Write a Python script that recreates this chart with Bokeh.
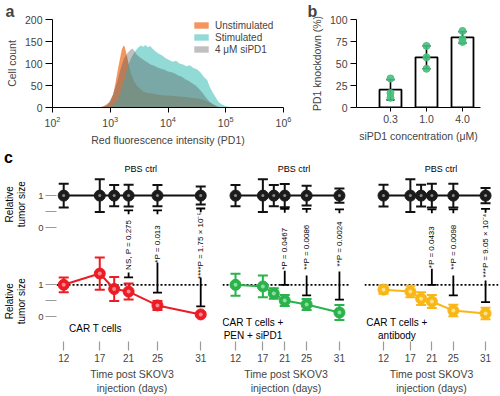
import numpy as np
from bokeh.plotting import figure
from bokeh.layouts import row, column
from bokeh.models import (Range1d, FixedTicker, Legend, LegendItem, Span)
from bokeh.core.properties import value
from bokeh.embed import file_html
from bokeh.resources import INLINE

FONT = "Liberation Sans"

# ---------------- panel a : PD1 histograms (log10 intensity, cell count) ----------------
unstim_log = [2.80, 2.88, 2.95, 3.00, 3.05, 3.09, 3.13, 3.17, 3.20, 3.23, 3.25, 3.27, 3.30,
              3.33, 3.37, 3.41, 3.46, 3.52, 3.58, 3.65, 3.72, 3.80, 3.90, 4.00, 4.10, 4.20,
              4.30, 4.40, 4.50, 4.60, 4.70, 4.78, 4.85, 4.92]
unstim_cnt = [0, 2, 6, 14, 30, 55, 85, 112, 132, 141, 138, 128, 110,
              92, 74, 60, 50, 42, 36, 33, 32, 30, 28, 27, 26, 25,
              24, 22, 21, 18, 13, 8, 3, 0]

stim_log = [2.95, 3.05, 3.12, 3.18, 3.24, 3.30, 3.36, 3.42, 3.48, 3.53, 3.57, 3.61, 3.65,
            3.69, 3.73, 3.78, 3.84, 3.90, 3.96, 4.02, 4.08, 4.14, 4.20, 4.26, 4.32, 4.38,
            4.44, 4.50, 4.56, 4.62, 4.68, 4.73, 4.78, 4.83, 4.88, 4.94, 5.00, 5.08, 5.16]
stim_cnt = [0, 5, 15, 35, 62, 92, 112, 126, 136, 141, 138, 142, 137,
            140, 134, 128, 122, 118, 112, 108, 104, 106, 100, 98, 94, 96,
            90, 87, 80, 70, 62, 45, 33, 22, 12, 6, 3, 1, 0]

sipd1_log = [2.82, 2.90, 2.98, 3.05, 3.12, 3.18, 3.24, 3.30, 3.35, 3.39, 3.42, 3.46, 3.52,
             3.58, 3.64, 3.70, 3.76, 3.82, 3.88, 3.94, 4.00, 4.06, 4.12, 4.18, 4.24, 4.30,
             4.36, 4.42, 4.48, 4.54, 4.60, 4.66, 4.72, 4.78, 4.84, 4.90]
sipd1_cnt = [0, 4, 12, 30, 58, 88, 112, 124, 131, 134, 128, 120, 113,
             108, 103, 98, 95, 91, 88, 86, 82, 80, 77, 73, 70, 64,
             60, 55, 50, 42, 33, 22, 13, 7, 3, 0]

hist_labels = ["Unstimulated", "Stimulated", "4 μM siPD1"]
x_decades = [1e2, 1e3, 1e4, 1e5, 1e6]
y_counts = [0, 50, 100, 150, 200]

# ---------------- panel b : knockdown ----------------
conc_labels = ["0.3", "1.0", "4.0"]
kd_mean = [20.2, 57.0, 79.7]
kd_err = [11.5, 13.0, 6.5]
kd_points = [[33.0, 16.5, 11.0], [70.0, 57.0, 44.0], [87.0, 77.5, 74.5]]
kd_ticks = [0, 25, 50, 75, 100]

# ---------------- panel c : relative tumour size ----------------
days = [12, 17, 19, 21, 25, 31]
tick_days = [12, 17, 21, 25, 31]
OFF = 2.77  # vertical offset of the PBS ctrl block

pbs_mean = [1, 1, 1, 1, 1, 1]
pbs_err_c1 = [0.37, 0.51, 0.33, 0.34, 0.33, 0.28]
pbs_err_c2 = [0.33, 0.51, 0.33, 0.36, 0.31, 0.22]
pbs_err_c3 = [0.34, 0.51, 0.34, 0.37, 0.37, 0.24]

car_mean = [1.0, 1.35, 0.87, 0.79, 0.36, 0.08]
car_err = [0.23, 0.50, 0.37, 0.25, 0.14, 0.05]
pen_mean = [1.0, 0.95, 0.73, 0.51, 0.39, 0.14]
pen_err = [0.34, 0.34, 0.16, 0.17, 0.17, 0.23]
ab_mean = [0.85, 0.79, 0.57, 0.48, 0.20, 0.11]
ab_err = [0.13, 0.18, 0.20, 0.20, 0.18, 0.18]

sig_days = [21, 25, 31]
sig_c1_text = ["NS, P = 0.275", "*P = 0.013", "****P = 1.75 × 10⁻⁵"]
sig_c2_text = ["*P = 0.0467", "**P = 0.0086", "**P = 0.0024"]
sig_c3_text = ["*P = 0.0433", "**P = 0.0098", "***P = 9.05 × 10⁻⁴"]
sig_c1_top = [3.31, 3.31, 3.37]
sig_c1_mid = [2.24, 2.27, 2.22]
sig_c1_segtop = [1.38, 1.69, 1.23]
sig_c1_bot = [1.23, 0.76, 0.33]
sig_c2_top = [3.36, 3.36, 3.34]
sig_c2_mid = [2.12, 2.17, 2.27]
sig_c2_segtop = [1.44, 1.29, 1.41]
sig_c2_bot = [1.00, 0.67, 0.54]
sig_c3_top = [3.34, 3.34, 3.36]
sig_c3_mid = [2.17, 2.17, 2.22]
sig_c3_segtop = [1.50, 1.29, 1.13]
sig_c3_bot = [1.00, 0.67, 0.46]

TEAL = "#5ec8c2"
GRAY = "#505050"
ORANGE = "#f07a34"
GREEN_PT = "#45c27e"
RED = "#ed1c24"
GREEN = "#2ab34b"
YELLOW = "#f9b716"

YR_C = (-0.761, 5.233)


def style(p, label_size="10.5px"):
    for ax in p.axis:
        ax.major_label_text_font = FONT
        ax.major_label_text_font_size = label_size
        ax.axis_label_text_font = FONT
        ax.axis_label_text_font_size = "10.5px"
        ax.axis_label_text_font_style = "normal"
        ax.minor_tick_line_color = None
        ax.major_tick_in = 0
        ax.axis_label_standoff = 4
        ax.major_label_standoff = 3
    p.grid.visible = False
    p.outline_line_color = None
    p.background_fill_color = "white"


def letter_title(p, t, off):
    p.title.text = t
    p.title.align = "left"
    p.title.offset = off
    p.title.standoff = 0
    p.title.text_font = FONT
    p.title.text_font_size = "16px"
    p.title.text_font_style = "bold"


# ================= panel a =================
pa = figure(width=300, height=148, x_axis_type="log", x_range=Range1d(1e2, 1e6),
            y_range=Range1d(0, 200), output_backend="svg", toolbar_location=None,
            min_border_left=52, min_border_right=17, min_border_top=19, min_border_bottom=40)
r_un = pa.varea(x=[10 ** v for v in unstim_log], y1=0, y2=unstim_cnt,
                fill_color=ORANGE, fill_alpha=0.8)
r_st = pa.varea(x=[10 ** v for v in stim_log], y1=0, y2=stim_cnt,
                fill_color=TEAL, fill_alpha=0.68)
r_si = pa.varea(x=[10 ** v for v in sipd1_log], y1=0, y2=sipd1_cnt,
                fill_color=GRAY, fill_alpha=0.36)
pa.xaxis.ticker = FixedTicker(ticks=x_decades)
pa.yaxis.ticker = FixedTicker(ticks=y_counts)
pa.xaxis.axis_label = "Red fluorescence intensity (PD1)"
pa.yaxis.axis_label = "Cell count"
style(pa)
pa.xaxis.major_tick_out = 5
pa.yaxis.major_tick_out = 7
leg = Legend(items=[LegendItem(label=hist_labels[0], renderers=[r_un]),
                    LegendItem(label=hist_labels[1], renderers=[r_st]),
                    LegendItem(label=hist_labels[2], renderers=[r_si])],
             location=(140, 52), glyph_width=18, glyph_height=8, label_height=12,
             spacing=0, padding=0, margin=0, label_standoff=5,
             border_line_color=None, background_fill_alpha=0,
             label_text_font=FONT, label_text_font_size="10px")
pa.add_layout(leg)
letter_title(pa, "a", -47)

# ================= panel b =================
conc_pos = list(range(len(conc_labels)))
pb = figure(width=200, height=148, x_range=Range1d(-0.944, 2.5), y_range=Range1d(0, 100),
            output_backend="svg", toolbar_location=None,
            min_border_left=56, min_border_right=20, min_border_top=19, min_border_bottom=40)
pb.vbar(x=conc_pos, top=kd_mean, width=0.61, fill_color="white", line_color="black",
        line_width=1.8)
lo = [m - e for m, e in zip(kd_mean, kd_err)]
hi = [m + e for m, e in zip(kd_mean, kd_err)]
pb.segment(x0=conc_pos, y0=lo, x1=conc_pos, y1=hi, line_color="black", line_width=1.6)
pb.scatter(conc_pos + conc_pos, lo + hi, marker="dash", size=8, line_color="black",
           line_width=1.6)
px = [conc_pos[i] for i, pts in enumerate(kd_points) for _ in pts]
py = [v for pts in kd_points for v in pts]
pb.scatter(px, py, size=7, fill_color=GREEN_PT, line_color=GREEN_PT, fill_alpha=0.9)
pb.xaxis.ticker = FixedTicker(ticks=conc_pos)
pb.xaxis.major_label_overrides = {i: s for i, s in zip(conc_pos, conc_labels)}
pb.yaxis.ticker = FixedTicker(ticks=kd_ticks)
pb.xaxis.axis_label = "siPD1 concentration (μM)"
pb.yaxis.axis_label = "PD1 knockdown (%)"
style(pb)
pb.xaxis.major_tick_out = 4
pb.yaxis.major_tick_out = 6
letter_title(pb, "b", -49)

# ================= panel c =================
# left strip holding the y-axis titles and the panel letter
lab = figure(width=30, height=248, x_range=Range1d(0, 1), y_range=Range1d(*YR_C),
             output_backend="svg", toolbar_location=None, x_axis_location=None,
             y_axis_location=None, title=None, min_border_left=0, min_border_right=0,
             min_border_top=0, min_border_bottom=55)
lab.grid.visible = False
lab.outline_line_color = None
lab.text(x=[0.5, 0.5], y=[OFF + 0.73, 0.49], text=["Relative\ntumor size"] * 2,
         angle=np.pi / 2, text_align="center", text_baseline="middle",
         text_font=value(FONT), text_font_size="10px", text_line_height=1.05)
lab.text(x=[0.12], y=[YR_C[1]], text=["c"], text_align="left", text_baseline="top",
         text_font=value(FONT), text_font_size="16px", text_font_style="bold")


def panel_c(width, bl, br, xr, pbs_err, tr_mean, tr_err, color, light,
            s_text, s_top, s_mid, s_segtop, s_bot, caption, cap_x, show_y):
    p = figure(width=width, height=248, x_range=Range1d(*xr), y_range=Range1d(*YR_C),
               output_backend="svg", toolbar_location=None, title=None,
               min_border_left=bl, min_border_right=br, min_border_top=0,
               min_border_bottom=55)
    p.add_layout(Span(location=1, dimension="width", line_color="black", line_width=1.8,
                      line_dash="2 2", level="underlay"))
    pby = [v + OFF for v in pbs_mean]
    # PBS control
    p.line(days, pby, line_color="#111111", line_width=2)
    plo = [m - e for m, e in zip(pby, pbs_err)]
    phi = [m + e for m, e in zip(pby, pbs_err)]
    p.segment(x0=days, y0=plo, x1=days, y1=phi, line_color="#111111", line_width=2)
    p.scatter(days + days, plo + phi, marker="dash", size=10, line_color="#111111",
              line_width=2)
    p.scatter(days, pby, size=11, fill_color="#1b1b1b", line_color="#1b1b1b")
    p.scatter(days, pby, size=3, fill_color="#8a8a8a", line_color=None)
    # treatment
    p.line(days, tr_mean, line_color=color, line_width=2)
    tlo = [m - e for m, e in zip(tr_mean, tr_err)]
    thi = [m + e for m, e in zip(tr_mean, tr_err)]
    p.segment(x0=days, y0=tlo, x1=days, y1=thi, line_color=color, line_width=2)
    p.scatter(days + days, tlo + thi, marker="dash", size=10, line_color=color,
              line_width=2)
    p.scatter(days, tr_mean, size=11, fill_color=color, line_color=color)
    p.scatter(days, tr_mean, size=4, fill_color=light, line_color=None)
    # significance brackets
    stub = [t - 0.12 for t in s_top]
    p.segment(x0=sig_days, y0=s_top, x1=sig_days, y1=stub, line_color="black", line_width=1.8)
    p.scatter(sig_days, s_top, marker="dash", size=9, line_color="black", line_width=1.8)
    p.segment(x0=sig_days, y0=s_segtop, x1=sig_days, y1=s_bot, line_color="black",
              line_width=1.8)
    p.scatter(sig_days, s_bot, marker="dash", size=9, line_color="black", line_width=1.8)
    p.text(x=sig_days, y=s_mid, text=s_text, angle=np.pi / 2, text_align="center",
           text_baseline="middle", text_font=value(FONT), text_font_size="8px",
           text_color="black")
    p.text(x=[22.7], y=[4.61], text=["PBS ctrl"], text_align="center",
           text_baseline="middle", text_font=value(FONT), text_font_size="9px")
    p.text(x=[cap_x], y=[-0.37], text=[caption], text_align="center",
           text_baseline="middle", text_font=value(FONT), text_font_size="10px",
           text_line_height=1.25)
    p.xaxis.ticker = FixedTicker(ticks=tick_days)
    p.xaxis.axis_label = "Time post SKOV3\ninjection (days)"
    style(p, "10px")
    p.xaxis.axis_line_color = None
    p.xaxis.major_tick_line_color = "#9a9a9a"
    p.xaxis.major_tick_line_width = 1.2
    p.xaxis.major_tick_out = 9
    p.xaxis.axis_label_standoff = 3
    if show_y:
        yt = [0, 0.5, 1, OFF, OFF + 0.5, OFF + 1]
        p.yaxis.ticker = FixedTicker(ticks=yt)
        p.yaxis.major_label_overrides = {yt[0]: "0", yt[1]: "", yt[2]: "1",
                                         yt[3]: "0", yt[4]: "", yt[5]: "1"}
        p.yaxis.axis_line_color = None
        p.yaxis.major_tick_line_color = "#9a9a9a"
        p.yaxis.major_tick_line_width = 1.2
        p.yaxis.major_tick_out = 11
        p.yaxis.major_label_standoff = 2
        p.yaxis.major_label_text_font_size = "9.5px"
    else:
        p.yaxis.visible = False
    return p


c1 = panel_c(182, 26, 5, (11.0, 31.94), pbs_err_c1, car_mean, car_err, RED, "#f58a8e",
             sig_c1_text, sig_c1_top, sig_c1_mid, sig_c1_segtop, sig_c1_bot,
             "CAR T cells", 16.4, True)
c2 = panel_c(144, 10, 7, (9.62, 32.84), pbs_err_c2, pen_mean, pen_err, GREEN, "#8fdca3",
             sig_c2_text, sig_c2_top, sig_c2_mid, sig_c2_segtop, sig_c2_bot,
             "CAR T cells +\nPEN + siPD1", 15.2, False)
c3 = panel_c(144, 8, 2, (8.46, 33.41), pbs_err_c3, ab_mean, ab_err, YELLOW, "#fde08c",
             sig_c3_text, sig_c3_top, sig_c3_mid, sig_c3_segtop, sig_c3_bot,
             "CAR T cells +\nantibody", 14.5, False)

layout = column(row(pa, pb), row(lab, c1, c2, c3))
open("out.html", "w").write(file_html(layout, INLINE))
